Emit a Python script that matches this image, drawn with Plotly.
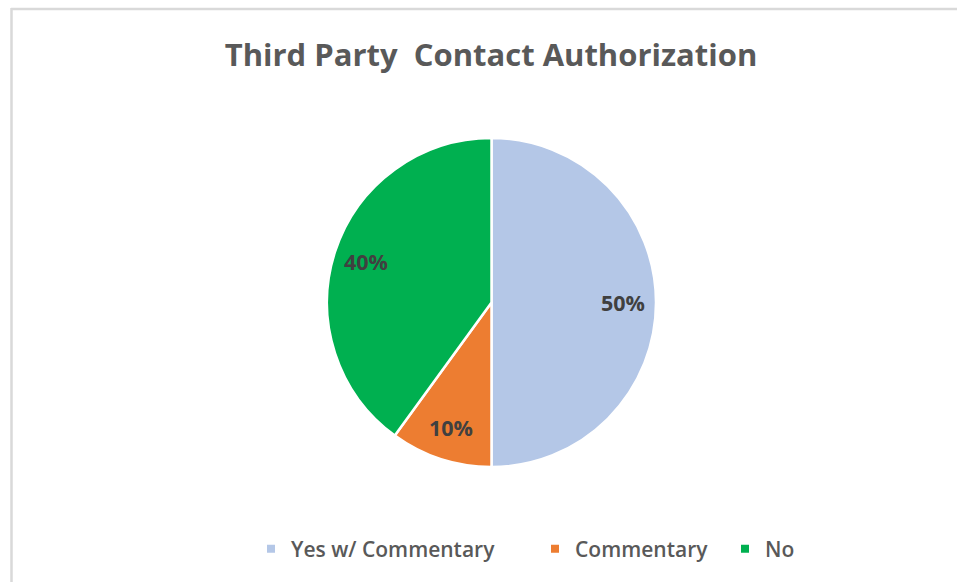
import numpy as np
import plotly.graph_objects as go

# Data
categories = ["Yes w/ Commentary", "Commentary", "No"]
shares = [50, 10, 40]
colors = ["#B4C7E7", "#ED7D31", "#00B050"]

W, H = 957, 582
# pie geometry in pixels
cx, cy, R = 491.5, 302.5, 164.5
# left edge of each legend entry's text, in pixels
legend_text_x = [295, 579, 769]
legend_y = 549


def px_x(x):
    return x / W


def px_y(y):
    return 1 - y / H


fig = go.Figure(
    go.Pie(
        labels=categories,
        values=shares,
        sort=False,
        direction="clockwise",
        rotation=0,
        marker=dict(colors=colors, line=dict(color="white", width=2.5)),
        textinfo="none",
        hoverinfo="label+percent",
        domain=dict(x=[px_x(cx - R), px_x(cx + R)], y=[px_y(cy + R), px_y(cy - R)]),
        showlegend=False,
    )
)

# legend entries: small square swatches, one legend box per category
legend_names = ["legend", "legend2", "legend3"]
for name, col, lg in zip(categories, colors, legend_names):
    fig.add_trace(
        go.Scatter(
            x=[None], y=[None], mode="markers", name=name,
            marker=dict(symbol="square", size=8, color=col),
            legend=lg, showlegend=True, hoverinfo="skip",
        )
    )

# percentage labels placed at 80% of the radius along each slice's mid-angle
vals = np.array(shares, dtype=float)
fracs = vals / vals.sum()
start = np.concatenate([[0], np.cumsum(fracs)[:-1]])
mid = start + fracs / 2
annotations = []
for f, m in zip(fracs, mid):
    ang = np.pi / 2 - 2 * np.pi * m
    lx = cx + 0.8 * R * np.cos(ang)
    ly = cy - 0.8 * R * np.sin(ang)
    annotations.append(
        dict(
            x=px_x(lx), y=px_y(ly), xref="paper", yref="paper",
            text=f"<b>{round(f * 100)}%</b>", showarrow=False,
            font=dict(family="Open Sans", size=21.5, color="#404040"),
            xanchor="center", yanchor="middle",
        )
    )

# chart frame (top and left edges)
shapes = [
    dict(type="line", xref="paper", yref="paper", x0=px_x(11), x1=1.0,
         y0=px_y(9), y1=px_y(9), line=dict(color="#D9D9D9", width=2.5)),
    dict(type="line", xref="paper", yref="paper", x0=px_x(11.5), x1=px_x(11.5),
         y0=px_y(8), y1=0, line=dict(color="#D9D9D9", width=2.5)),
]

legend_font = dict(family="Open Sans", size=21, color="#595959", weight=600)
legend_layout = {}
for lg, tx in zip(legend_names, legend_text_x):
    legend_layout[lg] = dict(
        orientation="h",
        x=px_x(tx - 44), xanchor="left",
        y=px_y(legend_y), yanchor="middle",
        font=legend_font,
        itemwidth=30,
        bgcolor="rgba(0,0,0,0)",
    )

fig.update_layout(
    width=W, height=H,
    margin=dict(l=0, r=0, t=0, b=0),
    paper_bgcolor="white",
    plot_bgcolor="white",
    xaxis=dict(visible=False),
    yaxis=dict(visible=False),
    title=dict(
        text="<b>Third Party  Contact Authorization</b>",
        x=px_x(491), xanchor="center",
        y=px_y(55), yanchor="middle",
        font=dict(family="Open Sans", size=31, color="#595959"),
    ),
    annotations=annotations,
    shapes=shapes,
    **legend_layout,
)

fig.write_html("out.html")
